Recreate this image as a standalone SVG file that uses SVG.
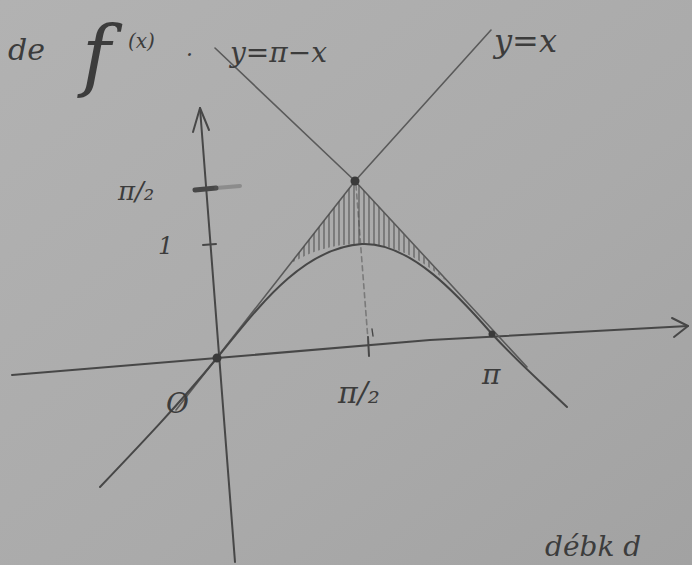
<svg xmlns="http://www.w3.org/2000/svg" width="692" height="565" viewBox="0 0 692 565">
  <defs>
    <linearGradient id="paper" x1="0" y1="0" x2="1" y2="1">
      <stop offset="0" stop-color="#b2b2b2"/>
      <stop offset="0.6" stop-color="#aaaaaa"/>
      <stop offset="1" stop-color="#a2a2a2"/>
    </linearGradient>
    <clipPath id="region">
      <path d="M290,264 L355,181 L447,282 C420,258 395,244 362,244 C330,244 310,252 290,264 Z"/>
    </clipPath>
  </defs>
  <style>
    .ink { fill: none; stroke: #474747; stroke-width: 2; stroke-linecap: round; stroke-linejoin: round; }
    .thin { fill: none; stroke: #5a5a5a; stroke-width: 1.6; stroke-linecap: round; stroke-linejoin: round; }
    .hatch { stroke: #4a4a4a; stroke-width: 1.3; opacity: 0.75; }
    .hand { font-family: "DejaVu Serif", "Liberation Serif", serif; font-style: italic; fill: #3c3c3c; }
  </style>
  <rect x="0" y="0" width="692" height="565" fill="url(#paper)"/>

  <g id="axes">
    <path class="ink" d="M12,375 L217,358 L430,340 L688,326"/>
    <path class="ink" d="M672,318 L688,326 L674,337"/>
    <path class="ink" d="M235,562 L200,108"/>
    <path class="ink" d="M193,132 L200,108 L209,130"/>
    <path class="ink" d="M195,190 L216,188" style="stroke-width:5"/>
    <path class="thin" d="M216,188 L240,186" style="opacity:0.4;stroke-width:4"/>
    <path class="ink" d="M203,245 L216,244"/>
    <path class="ink" d="M368,337 L369,356"/>
    <path class="ink" d="M372,329 L373,336" style="stroke-width:1.4"/>
    <path class="thin" d="M356,185 L368,340" stroke-dasharray="5,4" style="opacity:0.6"/>
  </g>

  <g id="connectors">
    <path id="line-y-eq-x" class="thin" d="M176,410 L355,181 L491,30"/>
    <path id="line-y-eq-pi-minus-x" class="thin" d="M215,48 L355,181 L527,367"/>
    <path id="curve-sin" class="ink" d="M100,487 C140,445 180,403 217,358 C255,312 300,248 362,244 C410,242 458,295 492,334 C520,364 545,386 567,407"/>
  </g>

  <g id="shaded" clip-path="url(#region)">
    <path class="hatch" d="M294,180 V290 M299,180 V290 M304,180 V290 M309,180 V290 M314,180 V290 M319,180 V290 M324,180 V290 M329,180 V290 M334,180 V290 M339,180 V290 M344,180 V290 M349,180 V290 M354,180 V290 M359,180 V290 M364,180 V290 M369,180 V290 M374,180 V290 M379,180 V290 M384,180 V290 M389,180 V290 M394,180 V290 M399,180 V290 M404,180 V290 M409,180 V290 M414,180 V290 M419,180 V290 M424,180 V290 M429,180 V290 M434,180 V290 M439,180 V290 M444,180 V290"/>
  </g>

  <g id="points">
    <circle cx="217" cy="358" r="4.5" fill="#3a3a3a"/>
    <circle cx="355" cy="181" r="4.5" fill="#3a3a3a"/>
    <circle cx="492" cy="334" r="3.5" fill="#3a3a3a"/>
  </g>

  <g id="labels">
    <text class="hand" x="8" y="60" font-size="30">de</text>
    <text class="hand" x="82" y="82" font-size="78">f</text>
    <text class="hand" x="128" y="48" font-size="20">(x)</text>
    <text class="hand" x="186" y="56" font-size="22">.</text>
    <text class="hand" x="230" y="62" font-size="28">y=π−x</text>
    <text class="hand" x="494" y="52" font-size="32">y=x</text>
    <text class="hand" x="118" y="200" font-size="26">π/₂</text>
    <text class="hand" x="158" y="254" font-size="24">1</text>
    <text class="hand" x="166" y="413" font-size="28">O</text>
    <text class="hand" x="338" y="403" font-size="30">π/₂</text>
    <text class="hand" x="482" y="384" font-size="28">π</text>
    <text class="hand" x="545" y="556" font-size="28">débk d</text>
  </g>
</svg>
